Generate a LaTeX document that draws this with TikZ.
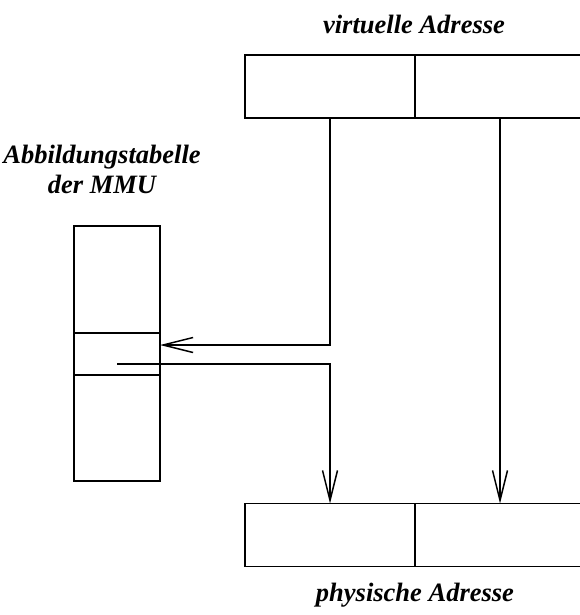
\documentclass[tikz,border=0pt]{standalone}
\usepackage{fontspec}
\setmainfont{Liberation Serif}
\usetikzlibrary{positioning,arrows.meta}

\begin{document}
\begin{tikzpicture}[
	x=1pt, y=-1pt,
	->/.style={arrows={-Straight Barb[length=30pt,width=15pt,line width=1.5pt]}},
	every node/.style={inner sep=0pt, outer sep=0pt},
	feld/.style={draw, line width=1.8pt, minimum height=63pt},
	zeile/.style={draw, line width=1.8pt, minimum width=86pt},
	titel/.style={font=\fontsize{26.5}{30}\selectfont\bfseries\itshape, align=center}
]
	\useasboundingbox (0,0) rectangle (580,615);
	\clip (0,0) rectangle (580,615);
	% virtuelle Adresse
	\node (vl) [feld, minimum width=170pt] at (330,86.5) {};
	\node (vr) [feld, minimum width=170pt, right=0pt of vl] {};
	\node (vtitel) [titel] at (414,24) {virtuelle Adresse};
	% physische Adresse
	\node (pl) [feld, minimum width=170pt] at (330,535) {};
	\node (pr) [feld, minimum width=170pt, right=0pt of pl] {};
	\node (ptitel) [titel] at (415,595) {physische Adresse};
	% Abbildungstabelle
	\node (tm) [zeile, minimum height=42pt] at (117,354) {};
	\node (to) [zeile, minimum height=107pt, above=0pt of tm] {};
	\node (tu) [zeile, minimum height=106pt, below=0pt of tm] {};
	\node (ttitel) [titel] at (102,169) {Abbildungstabelle\\der MMU};

	\draw[->, line width=1.8pt] (vl.south) |- ([yshift=9pt]tm.east);
	\draw[->, line width=1.8pt] ([yshift=-10pt]tm.center) -| (pl.north);
	\draw[->, line width=1.8pt] (vr.south) -- (pr.north);
\end{tikzpicture}
\end{document}
